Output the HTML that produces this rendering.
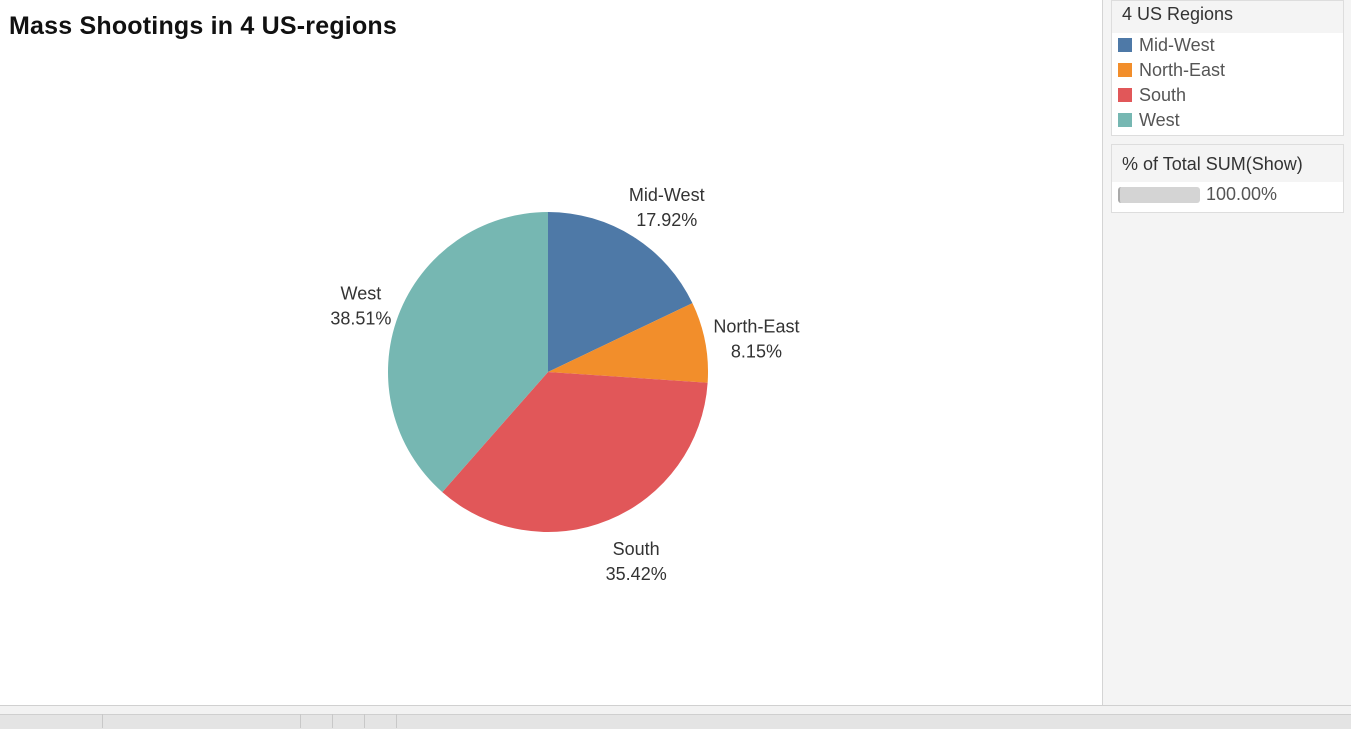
<!DOCTYPE html>
<html><head><meta charset="utf-8"><style>
body{margin:0;width:1351px;height:728px;overflow:hidden;background:#f4f4f4;font-family:"Liberation Sans",sans-serif;position:relative}
#main{position:absolute;left:0;top:0;width:1102px;height:705px;background:#fff;border-right:1px solid #d4d4d4}
h1{position:absolute;left:9px;top:12px;margin:0;font-size:25px;font-weight:bold;color:#111;letter-spacing:0.2px}
.box{position:absolute;left:1111px;width:231px;background:#fff;border:1px solid #ddd}
.hd{background:#f4f4f4;font-size:18px;color:#333;padding:3px 10px;height:26px}
.it{font-size:18px;color:#555;height:25px;line-height:25px;padding-left:6px}
.sw{display:inline-block;width:14px;height:14px;margin-right:7px;vertical-align:-1px}
#bot1{position:absolute;left:0;top:705px;width:1351px;height:9px;background:#f2f2f2;border-top:1px solid #d0d0d0}
#bot2{position:absolute;left:0;top:714px;width:1351px;height:14px;background:#e4e4e4;border-top:1px solid #cfcfcf}
.sep{position:absolute;top:714px;width:1px;height:14px;background:#c8c8c8}
</style></head><body>
<div id="main">
<h1>Mass Shootings in 4 US-regions</h1>
<svg id="pie" width="1102" height="705" style="position:absolute;left:0;top:0"></svg>
</div>
<div class="box" style="top:0;height:134px">
<div class="hd">4 US Regions</div>
<div class="it"><span class="sw" style="background:#4e79a7"></span>Mid-West</div>
<div class="it"><span class="sw" style="background:#f28e2b"></span>North-East</div>
<div class="it"><span class="sw" style="background:#e15759"></span>South</div>
<div class="it"><span class="sw" style="background:#76b7b2"></span>West</div>
</div>
<div class="box" style="top:144px;height:67px">
<div class="hd" style="padding-top:9px;height:25px">% of Total SUM(Show)</div>
<div class="it" style="color:#555"><span style="display:inline-block;width:80px;height:16px;background:#d4d4d4;border-radius:3px;border-left:2px solid #aaa;vertical-align:-3px;margin-right:6px"></span>100.00%</div>
</div>
<div id="bot1"></div>
<div id="bot2"></div>
<div class="sep" style="left:102px"></div><div class="sep" style="left:300px"></div><div class="sep" style="left:332px"></div><div class="sep" style="left:364px"></div><div class="sep" style="left:396px"></div>
<script>
const categories=["Mid-West","North-East","South","West"];
const values=[17.92,8.15,35.42,38.51];
const colors=["#4e79a7","#f28e2b","#e15759","#76b7b2"];
const svg=document.getElementById('pie');
const NS="http://www.w3.org/2000/svg";
const cx=548,cy=372,r=160,lr=200;
const total=values.reduce((a,b)=>a+b,0);
let a0=0;
values.forEach((v,i)=>{
  const a1=a0+v/total*2*Math.PI;
  const x0=cx+r*Math.sin(a0),y0=cy-r*Math.cos(a0),x1=cx+r*Math.sin(a1),y1=cy-r*Math.cos(a1);
  const p=document.createElementNS(NS,'path');
  p.setAttribute('d',`M${cx},${cy}L${x0},${y0}A${r},${r} 0 ${a1-a0>Math.PI?1:0} 1 ${x1},${y1}Z`);
  p.setAttribute('fill',colors[i]);
  
  
  svg.appendChild(p);
  const am=(a0+a1)/2;
  const lx=cx+lr*Math.sin(am)+(Math.sin(am)>0?12:0),ly=cy-lr*Math.cos(am);
  const t=document.createElementNS(NS,'text');
  t.setAttribute('x',lx);t.setAttribute('y',ly-2);
  t.setAttribute('text-anchor','middle');t.setAttribute('font-size','18');t.setAttribute('fill','#333');
  t.setAttribute('font-family','Liberation Sans, sans-serif');
  
  
  const s1=document.createElementNS(NS,'tspan');s1.setAttribute('x',lx);s1.textContent=categories[i];
  const s2=document.createElementNS(NS,'tspan');s2.setAttribute('x',lx);s2.setAttribute('dy','25');s2.textContent=v.toFixed(2)+'%';
  t.appendChild(s1);t.appendChild(s2);svg.appendChild(t);
  a0=a1;
});
</script>
</body></html>
